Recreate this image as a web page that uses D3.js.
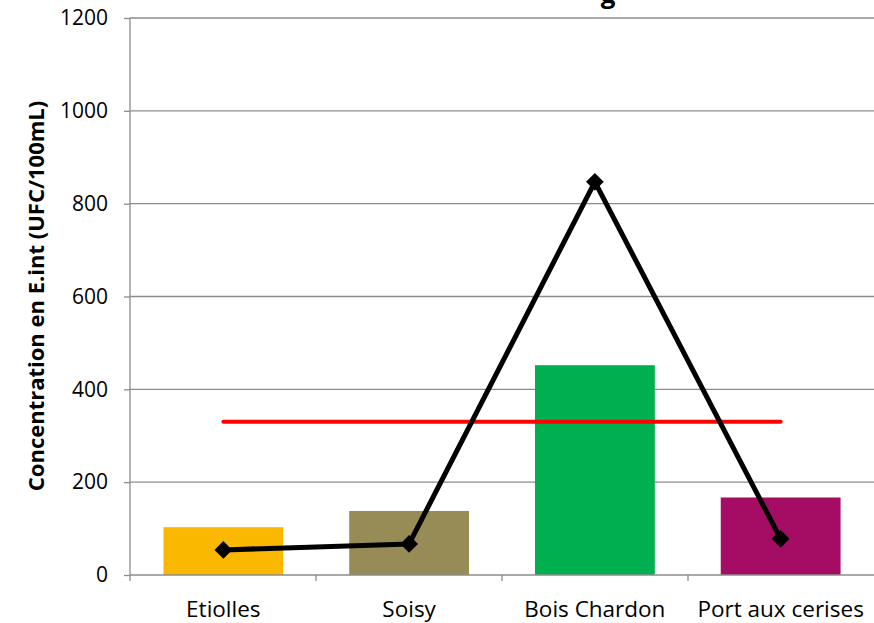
<!DOCTYPE html>
<html>
<head>
<meta charset="utf-8">
<script src="https://cdn.jsdelivr.net/npm/d3@7"></script>
<style>
  body { margin: 0; background: #fff; }
  text { font-family: "Open Sans", sans-serif; }
</style>
</head>
<body>
<svg id="chart"></svg>
<script>
// sites sampled
let sites = ["Etiolles", "Soisy", "Bois Chardon", "Port aux cerises"];
let site_colors = ["#fbb800", "#978c55", "#00b050", "#a50d65"];
// bar values and black line values (UFC/100mL)
let bar_values = [103, 138, 452, 167];
let line_values = [54, 67, 847, 78];
// red reference line
let threshold = 330;
let y_ticks = [0, 200, 400, 600, 800, 1000, 1200];

let width = 874, height = 623;
let plot_left = 130, plot_right = 874, plot_top = 18, plot_bottom = 575;

let svg = d3.select("#chart").attr("width", width).attr("height", height);

let x = d3.scaleBand().domain(sites).range([plot_left, plot_right]).paddingInner(0.355).paddingOuter(0.18);
let y = d3.scaleLinear().domain([0, 1200]).range([plot_bottom, plot_top]);

// grid
svg.append("g")
  .selectAll("line")
  .data(y_ticks.filter(d => d > 0))
  .join("line")
  .attr("x1", plot_left)
  .attr("x2", plot_right)
  .attr("y1", d => y(d))
  .attr("y2", d => y(d))
  .style("stroke", "#8c8c8c")
  .style("stroke-width", 1.3);

// bars
svg.append("g")
  .selectAll("rect")
  .data(sites)
  .join("rect")
  .attr("x", d => x(d))
  .attr("width", x.bandwidth())
  .attr("y", (d, i) => y(bar_values[i]))
  .attr("height", (d, i) => y(0) - y(bar_values[i]))
  .style("fill", (d, i) => site_colors[i]);

// y axis
let yAxis = svg.append("g")
  .attr("transform", "translate(" + plot_left + ",0)")
  .call(d3.axisLeft(y).tickValues(y_ticks).tickSize(6).tickPadding(16).tickFormat(d3.format("d")));
yAxis.select(".domain").style("stroke", "#8c8c8c").style("stroke-width", 1.3).attr("d", "M0," + plot_top + "V" + plot_bottom);
yAxis.selectAll(".tick line").style("stroke", "#8c8c8c").style("stroke-width", 1.3);
yAxis.selectAll(".tick text").style("font-size", "21px").style("fill", "#000").style("font-family", "'Open Sans', sans-serif");

// x axis
let bounds = d3.range(sites.length + 1).map(i => plot_left + i * (plot_right - plot_left) / sites.length);
svg.append("line")
  .attr("x1", plot_left).attr("x2", plot_right)
  .attr("y1", y(0)).attr("y2", y(0))
  .style("stroke", "#8c8c8c").style("stroke-width", 1.3);
svg.append("g")
  .selectAll("line")
  .data(bounds.slice(0, sites.length))
  .join("line")
  .attr("x1", d => d).attr("x2", d => d)
  .attr("y1", y(0)).attr("y2", y(0) + 6)
  .style("stroke", "#8c8c8c").style("stroke-width", 1.3);
svg.append("g")
  .selectAll("text")
  .data(sites)
  .join("text")
  .attr("x", d => x(d) + x.bandwidth() / 2)
  .attr("y", 617)
  .attr("text-anchor", "middle")
  .style("font-size", "22.5px")
  .text(d => d);

// red reference line
let cx = d => x(d) + x.bandwidth() / 2;
svg.append("line")
  .attr("x1", cx(sites[0]))
  .attr("x2", cx(sites[sites.length - 1]))
  .attr("y1", y(threshold))
  .attr("y2", y(threshold))
  .style("stroke", "#ff0000")
  .style("stroke-width", 4)
  .style("stroke-linecap", "round");

// black line with diamonds
let line = d3.line().x((d, i) => cx(sites[i])).y(d => y(d));
svg.append("path")
  .datum(line_values)
  .attr("d", line)
  .style("fill", "none")
  .style("stroke", "#000")
  .style("stroke-width", 5)
  .style("stroke-linejoin", "round");
svg.append("g")
  .selectAll("path")
  .data(line_values)
  .join("path")
  .attr("transform", (d, i) => "translate(" + cx(sites[i]) + "," + y(d) + ")")
  .attr("d", d3.symbol().type(d3.symbolDiamond2).size(200))
  .style("fill", "#000");

// y label
svg.append("text")
  .attr("transform", "translate(44,296) rotate(-90)")
  .attr("text-anchor", "middle")
  .style("font-size", "22px")
  .style("font-weight", "bold")
  .text("Concentration en E.int (UFC/100mL)");

// title, cut at the top of the picture
svg.append("text")
  .attr("x", 608)
  .attr("y", 3)
  .attr("text-anchor", "middle")
  .style("font-size", "26px")
  .style("font-weight", "bold")
  .text("g");
</script>
</body>
</html>
